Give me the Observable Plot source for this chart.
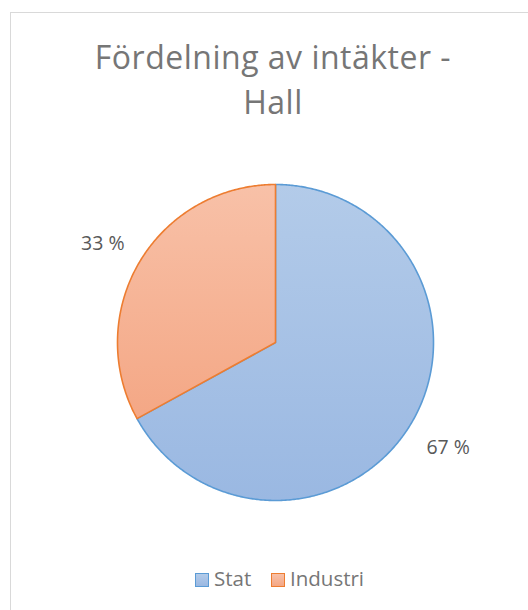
<!DOCTYPE html>
<html><head><meta charset="utf-8">
<script src="https://cdn.jsdelivr.net/npm/d3@7"></script>
<script src="https://cdn.jsdelivr.net/npm/@observablehq/plot@0.6"></script>
<style>
body{margin:0;background:#fff;font-family:"Open Sans",sans-serif;}
#wrap{position:relative;width:528px;height:610px;overflow:hidden;background:#fff;}
#frame{position:absolute;left:10px;top:12px;width:600px;height:700px;border:1.5px solid #d9d9d9;box-sizing:border-box;}
#title{position:absolute;left:0;width:546px;top:34px;text-align:center;color:#767676;font-size:32px;letter-spacing:0.5px;line-height:45px;white-space:nowrap;}
#chart{position:absolute;left:0;top:0;}
.sw{position:absolute;width:14px;height:14px;box-sizing:border-box;border:1.5px solid;}
.lt{position:absolute;font-size:20.5px;line-height:20px;color:#767676;white-space:nowrap;}
</style></head>
<body>
<svg width="0" height="0" style="position:absolute">
<defs>
<linearGradient id="g0" x1="0" y1="0" x2="0" y2="1"><stop offset="0" stop-color="#b3cbe9"/><stop offset="1" stop-color="#9ab8e2"/></linearGradient>
<linearGradient id="g1" x1="0" y1="0" x2="0" y2="1"><stop offset="0" stop-color="#f8c1a8"/><stop offset="1" stop-color="#f4a785"/></linearGradient>
</defs>
</svg>
<div id="wrap">
<div id="frame"></div>
<div id="title">Fördelning av intäkter -<br>Hall</div>
<div id="chart"></div>
<div id="legend"></div>
</div>
<script>
const categories = ["Stat", "Industri"];
const values = [67, 33];
const labels = ["67 %", "33 %"];

const fills = ["url(#g0)", "url(#g1)"];
const strokes = ["#5b9bd5", "#ed7d31"];

const total = d3.sum(values);
let acc = 0;
const slices = categories.map((c, i) => {
  const a0 = acc / total * 2 * Math.PI;
  acc += values[i];
  const a1 = acc / total * 2 * Math.PI;
  return {cat: c, value: values[i], label: labels[i], a0, a1, mid: (a0 + a1) / 2};
});

function slicePoints(s) {
  const pts = [{x: 0, y: 0}];
  const n = Math.max(2, Math.ceil((s.a1 - s.a0) / (Math.PI / 360)));
  for (let k = 0; k <= n; k++) {
    const a = s.a0 + (s.a1 - s.a0) * k / n;
    pts.push({x: Math.sin(a), y: Math.cos(a)});
  }
  pts.push({x: 0, y: 0});
  return pts;
}

const R = 158, CX = 275, CY = 342, W = 528, H = 610;
const labelR = 1.27;

const plot = Plot.plot({
  width: W, height: H, margin: 0,
  style: {fontFamily: "Open Sans", background: "transparent"},
  x: {domain: [-CX / R, (W - CX) / R], axis: null},
  y: {domain: [-(H - CY) / R, CY / R], axis: null},
  marks: [
    ...slices.map((s, i) => Plot.line(slicePoints(s), {
      x: "x", y: "y", fill: fills[i], stroke: strokes[i], strokeWidth: 1.6, strokeLinejoin: "round", curve: "linear"
    })),
    Plot.text(slices, {
      x: d => labelR * Math.sin(d.mid), y: d => labelR * Math.cos(d.mid),
      text: "label", fontSize: 19.5, fill: "#595959", textAnchor: "middle", lineAnchor: "middle", dy: 3
    })
  ]
});
document.getElementById("chart").appendChild(plot);

const legend = document.getElementById("legend");
const swX = [195, 271], txX = [214, 290];
categories.forEach((c, i) => {
  const sw = document.createElement("div");
  sw.className = "sw";
  sw.style.left = swX[i] + "px"; sw.style.top = "573px";
  sw.style.background = i === 0 ? "linear-gradient(#b3cbe9,#9ab8e2)" : "linear-gradient(#f8c1a8,#f4a785)";
  sw.style.borderColor = strokes[i];
  legend.appendChild(sw);
  const t = document.createElement("div");
  t.className = "lt"; t.textContent = c;
  t.style.left = txX[i] + "px"; t.style.top = "568px";
  legend.appendChild(t);
});
</script>
</body></html>
